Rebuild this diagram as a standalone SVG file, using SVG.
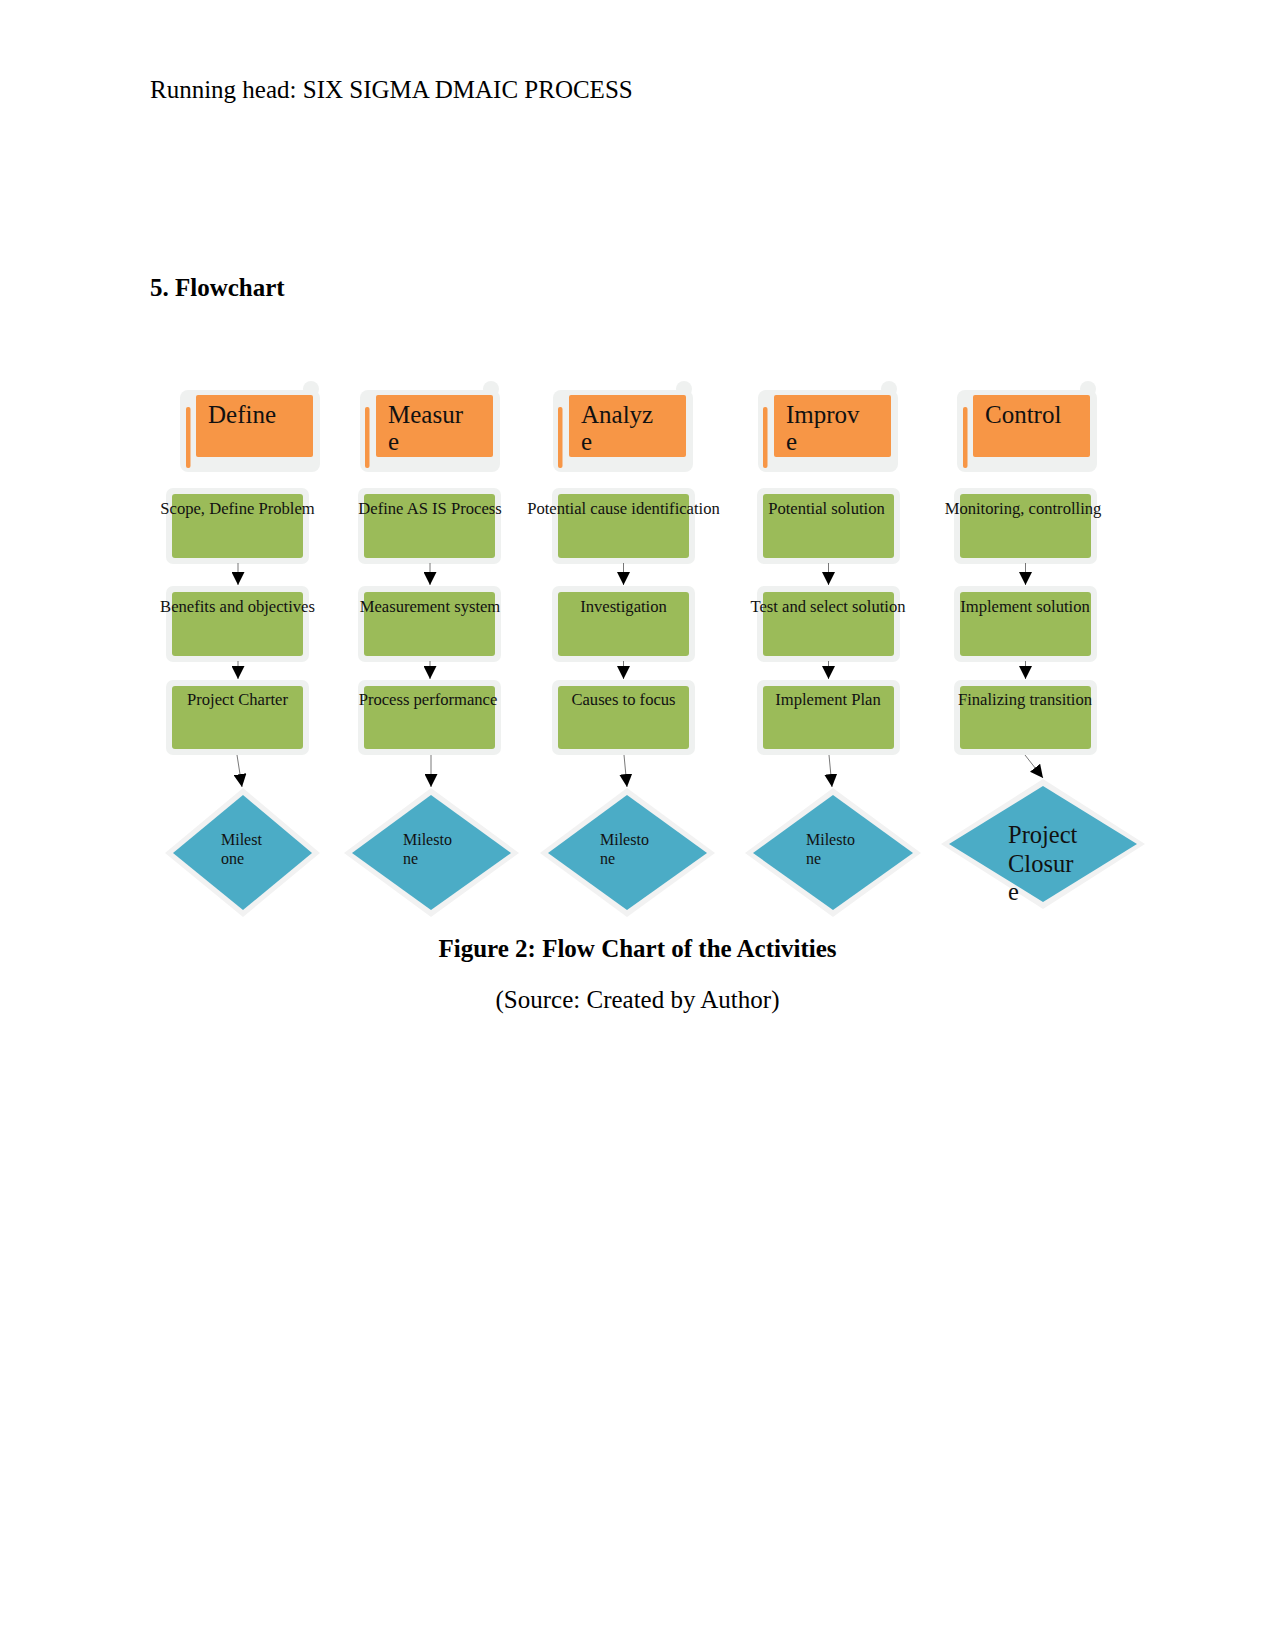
<svg xmlns="http://www.w3.org/2000/svg" width="1275" height="1650" viewBox="0 0 1275 1650">
<style>
.doc{font-family:"Liberation Serif","Times New Roman",serif;fill:#000}
.hd{font-family:"Liberation Serif","Times New Roman",serif;font-size:25px;fill:#111}
.bx{font-family:"Liberation Serif","Times New Roman",serif;font-size:16.6px;fill:#111;text-anchor:middle}
.ms{font-family:"Liberation Serif","Times New Roman",serif;font-size:16px;fill:#111}
.pc{font-family:"Liberation Serif","Times New Roman",serif;font-size:24.5px;fill:#111}
.glow{fill:#eff1f0}
.org{fill:#f79646}
.grn{fill:#9bbb59}
.blu{fill:#4bacc6}
.dglow{fill:#f2f2f2}
.cn{stroke:#555;stroke-width:0.8;fill:none}
</style>
<defs>
<marker id="ah" markerUnits="userSpaceOnUse" markerWidth="13" markerHeight="13" viewBox="0 0 12 12" refX="12" refY="6" orient="auto">
<path d="M0,0 L12,6 L0,12 Z" fill="#000"/>
</marker>
</defs>
<rect width="1275" height="1650" fill="#fff"/>
<text class="doc" x="150" y="98" font-size="25">Running head: SIX SIGMA DMAIC PROCESS</text>
<text class="doc" x="150" y="296" font-size="25" font-weight="bold">5. Flowchart</text>

<!-- Headers -->
<g id="hdr-define">
<rect class="glow" x="180" y="390" width="140" height="82" rx="8"/>
<circle class="glow" cx="311" cy="389" r="8"/>
<rect class="org" x="196" y="395" width="117" height="62" rx="2"/>
<rect class="org" x="186" y="407" width="4.5" height="61" rx="2"/>
<text class="hd" x="208" y="423">Define</text>
</g>
<g id="hdr-measure">
<rect class="glow" x="360" y="390" width="140" height="82" rx="8"/>
<circle class="glow" cx="491" cy="389" r="8"/>
<rect class="org" x="376" y="395" width="117" height="62" rx="2"/>
<rect class="org" x="365" y="407" width="4.5" height="61" rx="2"/>
<text class="hd" x="388" y="423">Measur</text>
<text class="hd" x="388" y="450">e</text>
</g>
<g id="hdr-analyze">
<rect class="glow" x="553" y="390" width="140" height="82" rx="8"/>
<circle class="glow" cx="684" cy="389" r="8"/>
<rect class="org" x="569" y="395" width="117" height="62" rx="2"/>
<rect class="org" x="558" y="407" width="4.5" height="61" rx="2"/>
<text class="hd" x="581" y="423">Analyz</text>
<text class="hd" x="581" y="450">e</text>
</g>
<g id="hdr-improve">
<rect class="glow" x="758" y="390" width="140" height="82" rx="8"/>
<circle class="glow" cx="889" cy="389" r="8"/>
<rect class="org" x="774" y="395" width="117" height="62" rx="2"/>
<rect class="org" x="763" y="407" width="4.5" height="61" rx="2"/>
<text class="hd" x="786" y="423">Improv</text>
<text class="hd" x="786" y="450">e</text>
</g>
<g id="hdr-control">
<rect class="glow" x="957" y="390" width="140" height="82" rx="8"/>
<circle class="glow" cx="1088" cy="389" r="8"/>
<rect class="org" x="973" y="395" width="117" height="62" rx="2"/>
<rect class="org" x="963" y="407" width="4.5" height="61" rx="2"/>
<text class="hd" x="985" y="423">Control</text>
</g>

<!-- Green boxes row 1 -->
<g id="b11"><rect class="glow" x="166" y="488" width="143" height="76" rx="7"/><rect class="grn" x="172" y="494" width="131" height="64" rx="3"/><text class="bx" x="237.5" y="514">Scope, Define Problem</text></g>
<g id="b21"><rect class="glow" x="358" y="488" width="143" height="76" rx="7"/><rect class="grn" x="364" y="494" width="131" height="64" rx="3"/><text class="bx" x="430" y="514">Define AS IS Process</text></g>
<g id="b31"><rect class="glow" x="552" y="488" width="143" height="76" rx="7"/><rect class="grn" x="558" y="494" width="131" height="64" rx="3"/><text class="bx" x="623.5" y="514">Potential cause identification</text></g>
<g id="b41"><rect class="glow" x="757" y="488" width="143" height="76" rx="7"/><rect class="grn" x="763" y="494" width="131" height="64" rx="3"/><text class="bx" x="826.5" y="514">Potential solution</text></g>
<g id="b51"><rect class="glow" x="954" y="488" width="143" height="76" rx="7"/><rect class="grn" x="960" y="494" width="131" height="64" rx="3"/><text class="bx" x="1023" y="514">Monitoring, controlling</text></g>

<!-- Row 2 -->
<g id="b12"><rect class="glow" x="166" y="586" width="143" height="76" rx="7"/><rect class="grn" x="172" y="592" width="131" height="64" rx="3"/><text class="bx" x="237.5" y="612">Benefits and objectives</text></g>
<g id="b22"><rect class="glow" x="358" y="586" width="143" height="76" rx="7"/><rect class="grn" x="364" y="592" width="131" height="64" rx="3"/><text class="bx" x="430" y="612">Measurement system</text></g>
<g id="b32"><rect class="glow" x="552" y="586" width="143" height="76" rx="7"/><rect class="grn" x="558" y="592" width="131" height="64" rx="3"/><text class="bx" x="623.5" y="612">Investigation</text></g>
<g id="b42"><rect class="glow" x="757" y="586" width="143" height="76" rx="7"/><rect class="grn" x="763" y="592" width="131" height="64" rx="3"/><text class="bx" x="828" y="612">Test and select solution</text></g>
<g id="b52"><rect class="glow" x="954" y="586" width="143" height="76" rx="7"/><rect class="grn" x="960" y="592" width="131" height="64" rx="3"/><text class="bx" x="1025" y="612">Implement solution</text></g>

<!-- Row 3 -->
<g id="b13"><rect class="glow" x="166" y="680" width="143" height="75" rx="7"/><rect class="grn" x="172" y="686" width="131" height="63" rx="3"/><text class="bx" x="237.5" y="705">Project Charter</text></g>
<g id="b23"><rect class="glow" x="358" y="680" width="143" height="75" rx="7"/><rect class="grn" x="364" y="686" width="131" height="63" rx="3"/><text class="bx" x="428" y="705">Process performance</text></g>
<g id="b33"><rect class="glow" x="552" y="680" width="143" height="75" rx="7"/><rect class="grn" x="558" y="686" width="131" height="63" rx="3"/><text class="bx" x="623.5" y="705">Causes to focus</text></g>
<g id="b43"><rect class="glow" x="757" y="680" width="143" height="75" rx="7"/><rect class="grn" x="763" y="686" width="131" height="63" rx="3"/><text class="bx" x="828" y="705">Implement Plan</text></g>
<g id="b53"><rect class="glow" x="954" y="680" width="143" height="75" rx="7"/><rect class="grn" x="960" y="686" width="131" height="63" rx="3"/><text class="bx" x="1025" y="705">Finalizing transition</text></g>

<!-- Diamonds -->
<g id="m1"><polygon class="dglow" points="243,788 165,853 243,917 320,853"/><polygon class="blu" points="243,795 173,853 243,910 312,853"/><text class="ms" x="221" y="845">Milest</text><text class="ms" x="221" y="864">one</text></g>
<g id="m2"><polygon class="dglow" points="431,788 344,853 431,917 519,853"/><polygon class="blu" points="431,795 352,853 431,910 511,853"/><text class="ms" x="403" y="845">Milesto</text><text class="ms" x="403" y="864">ne</text></g>
<g id="m3"><polygon class="dglow" points="627,788 540,853 627,917 715,853"/><polygon class="blu" points="627,795 548,853 627,910 707,853"/><text class="ms" x="600" y="845">Milesto</text><text class="ms" x="600" y="864">ne</text></g>
<g id="m4"><polygon class="dglow" points="833,788 745,853 833,917 921,853"/><polygon class="blu" points="833,795 753,853 833,910 913,853"/><text class="ms" x="806" y="845">Milesto</text><text class="ms" x="806" y="864">ne</text></g>
<g id="m5"><polygon class="dglow" points="1043,779 941,844 1043,909 1145,844"/><polygon class="blu" points="1043,786 949,844 1043,902 1137,844"/><text class="pc" x="1008" y="843">Project</text><text class="pc" x="1008" y="872">Closur</text><text class="pc" x="1008" y="900">e</text></g>

<!-- Connectors -->
<g id="connectors">
<line class="cn" x1="238" y1="563" x2="238" y2="585" marker-end="url(#ah)"/>
<line class="cn" x1="430" y1="563" x2="430" y2="585" marker-end="url(#ah)"/>
<line class="cn" x1="623.5" y1="563" x2="623.5" y2="585" marker-end="url(#ah)"/>
<line class="cn" x1="828.5" y1="563" x2="828.5" y2="585" marker-end="url(#ah)"/>
<line class="cn" x1="1025.5" y1="563" x2="1025.5" y2="585" marker-end="url(#ah)"/>
<line class="cn" x1="238" y1="661" x2="238" y2="679" marker-end="url(#ah)"/>
<line class="cn" x1="430" y1="661" x2="430" y2="679" marker-end="url(#ah)"/>
<line class="cn" x1="623.5" y1="661" x2="623.5" y2="679" marker-end="url(#ah)"/>
<line class="cn" x1="828.5" y1="661" x2="828.5" y2="679" marker-end="url(#ah)"/>
<line class="cn" x1="1025.5" y1="661" x2="1025.5" y2="679" marker-end="url(#ah)"/>
<line class="cn" x1="237" y1="755" x2="242" y2="787" marker-end="url(#ah)"/>
<line class="cn" x1="431" y1="755" x2="431" y2="787" marker-end="url(#ah)"/>
<line class="cn" x1="624" y1="755" x2="627" y2="787" marker-end="url(#ah)"/>
<line class="cn" x1="829" y1="755" x2="832" y2="787" marker-end="url(#ah)"/>
<line class="cn" x1="1025" y1="755" x2="1043" y2="778" marker-end="url(#ah)"/>
</g>

<text class="doc" x="637.5" y="957" font-size="25" font-weight="bold" text-anchor="middle">Figure 2: Flow Chart of the Activities</text>
<text class="doc" x="637.5" y="1008" font-size="25" text-anchor="middle">(Source: Created by Author)</text>
</svg>
